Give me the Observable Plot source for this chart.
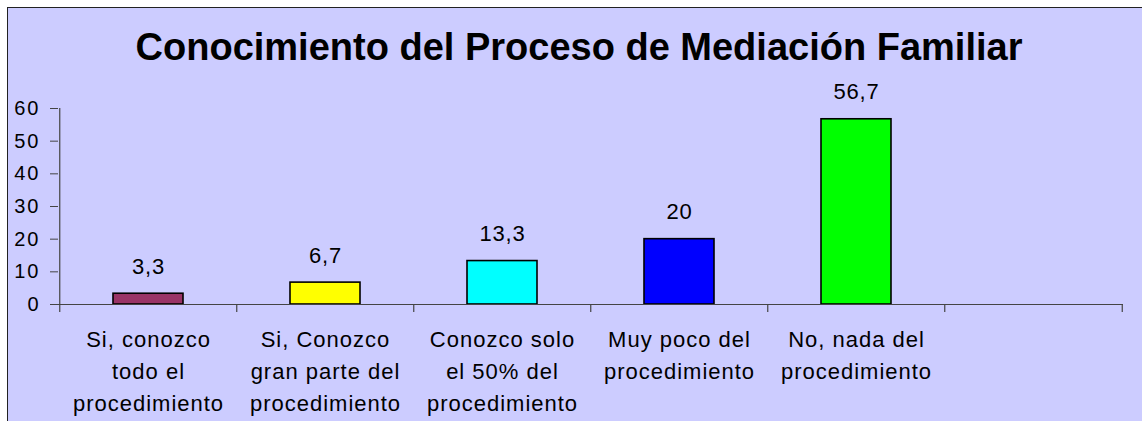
<!DOCTYPE html>
<html>
<head>
<meta charset="utf-8">
<script src="https://cdn.jsdelivr.net/npm/d3@7"></script>
<script src="https://cdn.jsdelivr.net/npm/@observablehq/plot@0.6"></script>
<style>
  html, body { margin: 0; padding: 0; background: #ffffff; }
  #frame {
    position: absolute; left: 7px; top: 7px; width: 1135px; height: 414px;
    box-sizing: border-box; border-left: 1px solid #222; border-top: 1px solid #222;
    background: #ccccff; overflow: hidden;
  }
  #title {
    height: 63px; box-sizing: border-box; padding-top: 17.6px; padding-left: 8px;
    font-family: "Liberation Sans", Arial, sans-serif; font-weight: bold; font-size: 38px;
    line-height: 1.117; text-align: center; color: #000; white-space: nowrap; overflow: visible;
  }
  #chart svg { display: block; overflow: visible; }
</style>
</head>
<body>
<div id="frame">
  <div id="title">Conocimiento del Proceso de Mediación Familiar</div>
  <div id="chart"></div>
</div>
<script>
const categories = [
  "Si, conozco\ntodo el\nprocedimiento",
  "Si, Conozco\ngran parte del\nprocedimiento",
  "Conozco solo\nel 50% del\nprocedimiento",
  "Muy poco del\nprocedimiento",
  "No, nada del\nprocedimiento",
  ""
];
const values = [3.3, 6.7, 13.3, 20, 56.7];
const barColors = ["#993366", "#ffff00", "#00ffff", "#0000ff", "#00ff00"];
const yTicks = [0, 10, 20, 30, 40, 50, 60];

const data = values.map((v, i) => ({cat: categories[i], value: v, color: barColors[i]}));

const W = 1134, H = 350, mL = 50, mR = 19, mT = 37, mB = 117;
const step = (W - mL - mR) / categories.length;
const font = "'Liberation Sans', Arial, sans-serif";
const axisColor = "#444";

const plot = Plot.plot({
  width: W, height: H,
  marginLeft: mL, marginRight: mR, marginTop: mT, marginBottom: mB,
  style: {background: "transparent", fontFamily: font, color: "#000"},
  x: {type: "band", domain: categories, paddingInner: 0.605, paddingOuter: 0.3025, label: null},
  y: {domain: [0, 60], label: null},
  color: {type: "identity"},
  marks: [
    Plot.barY(data, {x: "cat", y: "value", fill: "color", stroke: "#000", strokeWidth: 1.6}),
    Plot.ruleY([0], {stroke: axisColor, strokeWidth: 1.2}),
    Plot.ruleX([categories[0]], {x: d => d, dx: -step / 2, y1: 60, y2: 0, insetBottom: -8, stroke: axisColor, strokeWidth: 1.2}),
    Plot.ruleX(categories.slice(1), {x: d => d, dx: -step / 2, y1: 0, y2: 0, insetBottom: -8, stroke: axisColor, strokeWidth: 1.2}),
    Plot.ruleX([categories[categories.length - 1]], {x: d => d, dx: step / 2, y1: 0, y2: 0, insetBottom: -8, stroke: axisColor, strokeWidth: 1.2}),
    Plot.axisY({ticks: yTicks, tickSize: 8, tickPadding: 10, fontSize: 20, stroke: axisColor, fill: "#000", label: null}),
    Plot.axisX({tickSize: 0, tickPadding: 20, fontSize: 22, lineHeight: 32 / 22, fill: "#000", label: null}),
    Plot.text(data, {x: "cat", y: "value", text: d => String(d.value).replace(".", ","),
      lineAnchor: "bottom", dy: -20, fontSize: 22, fill: "#000"})
  ]
});
d3.select(plot).selectAll('[aria-label="y-axis tick label"] text').attr("letter-spacing", "2px");
d3.select(plot).selectAll('[aria-label="x-axis tick label"] text').attr("letter-spacing", "1px");
d3.select(plot).selectAll('[aria-label="text"] text').attr("letter-spacing", "0.8px");
document.getElementById("chart").appendChild(plot);
</script>
</body>
</html>
